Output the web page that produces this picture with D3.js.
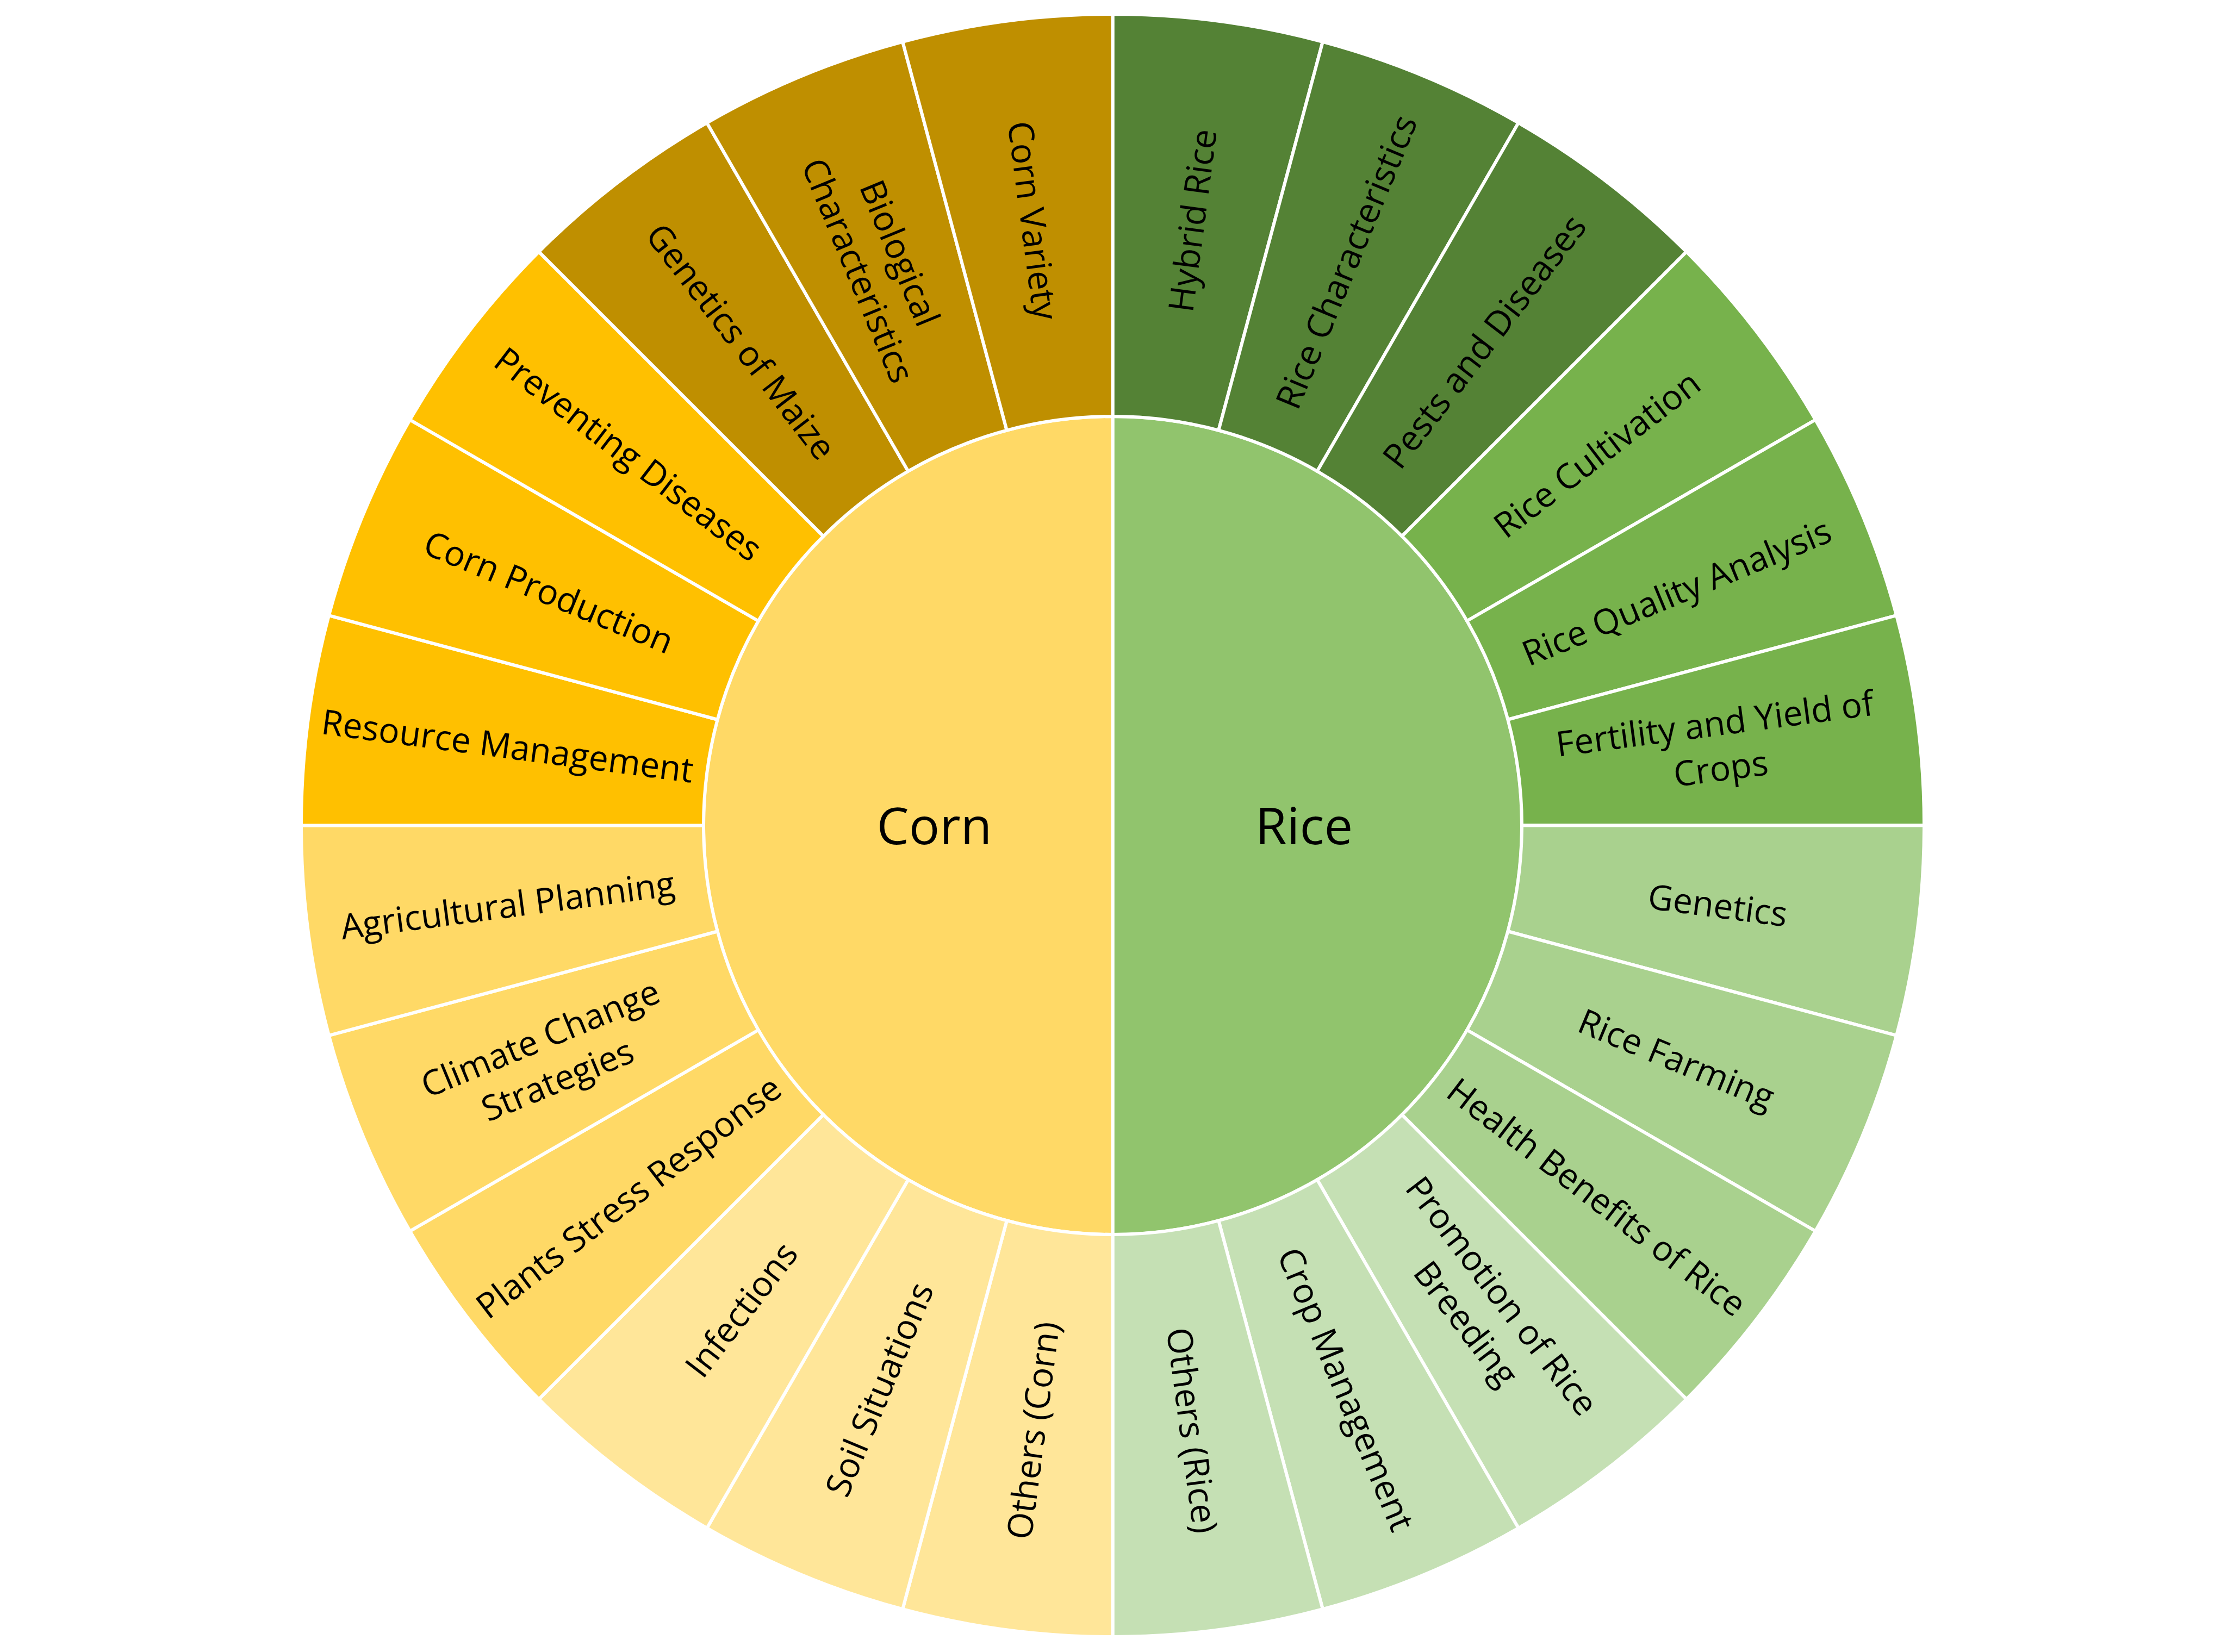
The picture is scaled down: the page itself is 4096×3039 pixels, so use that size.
<!DOCTYPE html>
<html>
<head>
<meta charset="utf-8">
<script src="https://cdn.jsdelivr.net/npm/d3@7"></script>
<style>
  html, body { margin: 0; padding: 0; background: #ffffff; }
  svg { display: block; }
</style>
</head>
<body>
<svg id="chart" width="4096" height="3039"></svg>
<script>
// ---- data ----
const crops = ["Rice", "Corn"];
const riceTopics = [
  "Hybrid Rice", "Rice Characteristics", "Pests and Diseases",
  "Rice Cultivation", "Rice Quality Analysis", "Fertility and Yield of<br>Crops",
  "Genetics", "Rice Farming", "Health Benefits of Rice",
  "Promotion of Rice<br>Breeding", "Crop Management", "Others (Rice)"
];
const riceValues = [1, 1, 1, 1, 1, 1, 1, 1, 1, 1, 1, 1];
const cornTopics = [
  "Others (Corn)", "Soil Situations", "Infections",
  "Plants Stress Response", "Climate Change<br>Strategies", "Agricultural Planning",
  "Resource Management", "Corn Production", "Preventing Diseases",
  "Genetics of Maize", "Biological<br>Characteristics", "Corn Variety"
];
const cornValues = [1, 1, 1, 1, 1, 1, 1, 1, 1, 1, 1, 1];

// ---- styles ----
const cropColors = { "Rice": "#91c46d", "Corn": "#ffd966" };
const ricePalette = ["#548235", "#548235", "#548235", "#77b24c", "#77b24c", "#77b24c",
                     "#a9d18e", "#a9d18e", "#a9d18e", "#c5e0b4", "#c5e0b4", "#c5e0b4"];
const cornPalette = ["#ffe699", "#ffe699", "#ffe699", "#ffd966", "#ffd966", "#ffd966",
                     "#ffc000", "#ffc000", "#ffc000", "#bf8f00", "#bf8f00", "#bf8f00"];

const cx = 2046.5, cy = 1518.5;
const rInner = 752.5, rOuter = 1492.5;
const fontFamily = "'Comic Sans MS', 'Open Sans', sans-serif";

const topicsByCrop = { "Rice": riceTopics, "Corn": cornTopics };
const valuesByCrop = { "Rice": riceValues, "Corn": cornValues };
const paletteByCrop = { "Rice": ricePalette, "Corn": cornPalette };

const treeData = {
  name: "root",
  children: crops.map(c => ({
    name: c,
    children: topicsByCrop[c].map((t, i) => ({ name: t, value: valuesByCrop[c][i], color: paletteByCrop[c][i] }))
  }))
};

const root = d3.hierarchy(treeData).sum(d => d.value || 0);
d3.partition().size([2 * Math.PI, 3])(root);

// depth 1 -> [0, rInner]; depth 2 -> [rInner, rOuter]
const rScale = d3.scaleLinear().domain([1, 2, 3]).range([0, rInner, rOuter]);

const arc = d3.arc()
  .startAngle(d => d.x0)
  .endAngle(d => d.x1)
  .innerRadius(d => rScale(d.y0))
  .outerRadius(d => rScale(d.y1));

const svg = d3.select("#chart");
const g = svg.append("g").attr("transform", `translate(${cx},${cy})`);

const nodes = root.descendants().filter(d => d.depth > 0);

g.selectAll("path")
  .data(nodes)
  .join("path")
  .attr("d", arc)
  .attr("fill", d => d.depth === 1 ? cropColors[d.data.name] : d.data.color)
  .attr("stroke", "#ffffff")
  .attr("stroke-width", 6)
  .attr("stroke-linejoin", "round");

// inner labels
g.selectAll("text.crop")
  .data(root.children)
  .join("text")
  .attr("class", "crop")
  .attr("x", d => Math.sin((d.x0 + d.x1) / 2) * rInner * 0.452 + 12)
  .attr("y", d => -Math.cos((d.x0 + d.x1) / 2) * rInner * 0.452 + 34)
  .attr("text-anchor", "middle")
  .attr("font-family", fontFamily)
  .attr("font-size", 94)
  .attr("fill", "#000")
  .text(d => d.data.name);

// outer labels
const rMid = (rInner + rOuter) / 2;
const fs = 64, lh = fs * 1.3;
const lbl = g.selectAll("g.lbl")
  .data(root.leaves())
  .join("g")
  .attr("class", "lbl")
  .attr("transform", d => {
    const a = (d.x0 + d.x1) / 2;
    const deg = a * 180 / Math.PI;
    const rot = deg < 180 ? deg - 90 : deg - 270;
    const x = Math.sin(a) * rMid, y = -Math.cos(a) * rMid;
    return `translate(${x},${y}) rotate(${rot})`;
  });

lbl.each(function(d) {
  const lines = d.data.name.split("<br>");
  const t = d3.select(this).append("text")
    .attr("text-anchor", "middle")
    .attr("font-family", fontFamily)
    .attr("font-size", fs)
    .attr("fill", "#000");
  const y0 = -(lines.length - 1) / 2 * lh + fs * 0.36;
  lines.forEach((ln, i) => {
    t.append("tspan").attr("x", 0).attr("y", y0 + i * lh).text(ln);
  });
});
</script>
</body>
</html>
